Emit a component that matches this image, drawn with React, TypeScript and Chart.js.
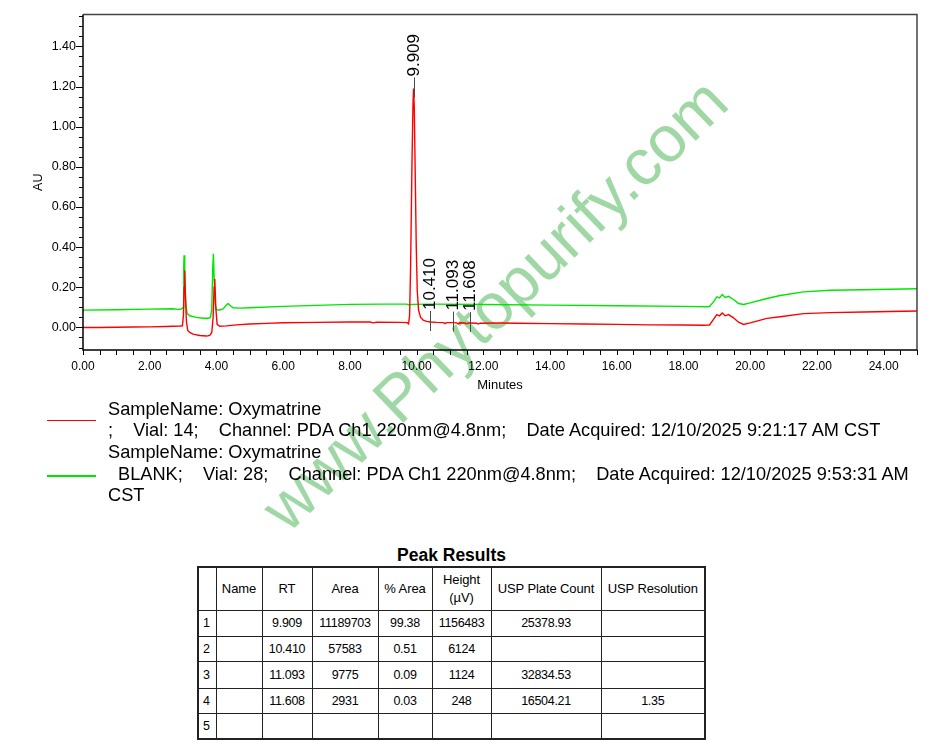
import React, { useEffect, useRef } from 'react';
import { Chart, registerables } from 'chart.js';

Chart.register(...registerables);

// ---------- chromatogram data (minutes, AU) ----------
const RED_TIME = [
  0, 0.5, 1.0, 1.5, 2.0, 2.5, 2.9, 2.98, 3.01, 3.03, 3.05, 3.07, 3.1, 3.14, 3.2, 3.3, 3.5, 3.7, 3.8, 3.86,
  3.9, 3.93, 3.95, 3.98, 4.02, 4.1, 4.3, 4.6, 5.0, 5.5, 6.0, 7.0, 8.0, 8.6, 8.7, 8.8, 9.5, 9.72, 9.76, 9.79,
  9.82, 9.86, 9.89, 9.909, 9.93, 9.96, 9.99, 10.02, 10.06, 10.12, 10.2, 10.3, 10.41, 10.6, 10.8, 10.85, 10.9,
  11.093, 11.2, 11.25, 11.3, 11.45, 11.5, 11.55, 11.608, 11.8, 11.85, 11.9, 12.5, 13.0, 14.0, 15.0, 16.0, 17.0,
  18.0, 18.6, 18.78, 18.9, 19.0, 19.08, 19.16, 19.25, 19.35, 19.5, 19.65, 19.8, 20.0, 20.5, 20.9, 21.6, 22.4,
  23.4, 25.0,
];
const RED_AU = [
  0.0, 0.0, 0.001, 0.002, 0.003, 0.005, 0.007, 0.008, 0.06, 0.2, 0.284, 0.16, 0.03, -0.015, -0.025, -0.033,
  -0.04, -0.043, -0.04, -0.025, 0.05, 0.2, 0.243, 0.1, 0.015, 0.006, 0.008, 0.013, 0.017, 0.02, 0.023, 0.025,
  0.027, 0.027, 0.023, 0.026, 0.025, 0.024, 0.018, 0.06, 0.3, 0.8, 1.1, 1.19, 1.1, 0.75, 0.4, 0.18, 0.085,
  0.05, 0.036, 0.03, 0.027, 0.025, 0.024, 0.019, 0.024, 0.024, 0.023, 0.018, 0.023, 0.022, 0.018, 0.022,
  0.022, 0.021, 0.017, 0.021, 0.022, 0.021, 0.019, 0.017, 0.015, 0.013, 0.012, 0.011, 0.012, 0.04, 0.064,
  0.058, 0.072, 0.058, 0.064, 0.048, 0.026, 0.015, 0.023, 0.045, 0.053, 0.069, 0.074, 0.077, 0.082,
];
const GREEN_TIME = [
  0, 1.0, 2.0, 2.7, 2.85, 2.95, 3.0, 3.02, 3.03, 3.05, 3.08, 3.12, 3.2, 3.4, 3.6, 3.75, 3.82, 3.86, 3.89,
  3.91, 3.93, 3.96, 4.0, 4.1, 4.2, 4.3, 4.35, 4.42, 4.5, 4.7, 5.0, 6.0, 7.0, 8.0, 9.0, 9.7, 9.78, 9.85,
  10.5, 12.0, 14.0, 16.0, 18.0, 18.7, 18.78, 18.9, 19.0, 19.08, 19.16, 19.25, 19.35, 19.5, 19.65, 19.8,
  20.0, 20.5, 20.9, 21.6, 22.4, 23.4, 25.0,
];
const GREEN_AU = [
  0.086, 0.088, 0.091, 0.093, 0.09, 0.092, 0.1, 0.3, 0.359, 0.25, 0.12, 0.07, 0.058, 0.05, 0.046, 0.046,
  0.05, 0.09, 0.3, 0.367, 0.25, 0.12, 0.088, 0.087, 0.092, 0.112, 0.119, 0.108, 0.098, 0.096, 0.098, 0.105,
  0.11, 0.115, 0.116, 0.116, 0.112, 0.115, 0.116, 0.114, 0.111, 0.108, 0.105, 0.103, 0.104, 0.127, 0.152,
  0.147, 0.164, 0.149, 0.155, 0.139, 0.119, 0.114, 0.122, 0.144, 0.159, 0.177, 0.185, 0.188, 0.193,
];

// ---------- axes ----------
const X_MIN = 0;
const X_MAX = 25;
const X_LABELS = [0, 2, 4, 6, 8, 10, 12, 14, 16, 18, 20, 22, 24];
const X_MINOR_STEP = 0.5;
const Y_MIN = -0.1124;
const Y_MAX = 1.5588;
const Y_LABELS = [0, 0.2, 0.4, 0.6, 0.8, 1.0, 1.2, 1.4];
const Y_MINOR_STEP = 0.05;

// ---------- peak annotations ----------
const PEAK_RT = [9.909, 10.41, 11.093, 11.608];
const PEAK_TEXT = ['9.909', '10.410', '11.093', '11.608'];

// ---------- legend ----------
const SERIES_COLORS = ['#ff0000', '#00e600'];
const LEGEND_LINES = [
  'SampleName: Oxymatrine',
  ';    Vial: 14;    Channel: PDA Ch1 220nm@4.8nm;    Date Acquired: 12/10/2025 9:21:17 AM CST',
  'SampleName: Oxymatrine',
  '  BLANK;    Vial: 28;    Channel: PDA Ch1 220nm@4.8nm;    Date Acquired: 12/10/2025 9:53:31 AM',
  'CST',
];

// ---------- peak results table ----------
const TABLE_HEADERS = ['', 'Name', 'RT', 'Area', '% Area', 'Height\n(\u00b5V)', 'USP Plate Count', 'USP Resolution'];
const PEAK_NO = ['1', '2', '3', '4', '5'];
const PEAK_NAME = ['', '', '', '', ''];
const PEAK_RT_TEXT = ['9.909', '10.410', '11.093', '11.608', ''];
const PEAK_AREA = ['11189703', '57583', '9775', '2931', ''];
const PEAK_PCT_AREA = ['99.38', '0.51', '0.09', '0.03', ''];
const PEAK_HEIGHT = ['1156483', '6124', '1124', '248', ''];
const PEAK_PLATE = ['25378.93', '', '32834.53', '16504.21', ''];
const PEAK_RES = ['', '', '', '1.35', ''];

const FONT = '"Liberation Sans", Arial, Helvetica, sans-serif';

function buildTicks(min: number, max: number, step: number) {
  const out: number[] = [];
  const start = Math.ceil(min / step - 1e-9);
  const end = Math.floor(max / step + 1e-9);
  for (let i = start; i <= end; i++) out.push(+(i * step).toFixed(4));
  return out;
}
const isIn = (arr: number[], v: number) => arr.some((a) => Math.abs(a - v) < 1e-6);

function interp(ts: number[], vs: number[], t: number) {
  for (let i = 0; i < ts.length - 1; i++) {
    if (t >= ts[i] && t <= ts[i + 1]) {
      const f = (t - ts[i]) / (ts[i + 1] - ts[i]);
      return vs[i] + f * (vs[i + 1] - vs[i]);
    }
  }
  return vs[vs.length - 1];
}

const framePlugin = {
  id: 'frameTicks',
  afterDraw(chart: any) {
    const { ctx, chartArea: a, scales } = chart;
    const x = scales.x;
    const y = scales.y;
    ctx.save();
    ctx.strokeStyle = '#000';
    ctx.lineWidth = 1;
    ctx.beginPath();
    for (const t of x.ticks) {
      const px = Math.round(x.getPixelForValue(t.value)) + 0.5;
      ctx.moveTo(px, a.bottom);
      ctx.lineTo(px, a.bottom + 5);
    }
    for (const t of y.ticks) {
      const py = Math.round(y.getPixelForValue(t.value)) + 0.5;
      const len = isIn(Y_LABELS, t.value) ? 7 : 4;
      ctx.moveTo(a.left - len, py);
      ctx.lineTo(a.left, py);
    }
    ctx.stroke();
    // top + right frame
    ctx.strokeStyle = '#444';
    ctx.lineWidth = 1.5;
    ctx.beginPath();
    ctx.moveTo(a.left, a.top);
    ctx.lineTo(a.right, a.top);
    ctx.lineTo(a.right, a.bottom);
    ctx.stroke();
    // axes
    ctx.strokeStyle = '#000';
    ctx.lineWidth = 1.5;
    ctx.beginPath();
    ctx.moveTo(a.left, a.top);
    ctx.lineTo(a.left, a.bottom);
    ctx.lineTo(a.right, a.bottom);
    ctx.stroke();
    ctx.restore();
  },
};

const peakPlugin = {
  id: 'peakLabels',
  afterDatasetsDraw(chart: any) {
    const { ctx, scales } = chart;
    const x = scales.x;
    const y = scales.y;
    ctx.save();
    ctx.font = '17px ' + FONT;
    ctx.fillStyle = '#000';
    ctx.strokeStyle = '#4a4a4a';
    ctx.lineWidth = 1;
    PEAK_RT.forEach((rt, i) => {
      const px = Math.round(x.getPixelForValue(rt)) + 0.5;
      const py = y.getPixelForValue(interp(RED_TIME, RED_AU, rt));
      ctx.beginPath();
      ctx.moveTo(px, py - 11);
      ctx.lineTo(px, py + 9);
      ctx.stroke();
      ctx.save();
      ctx.translate(px, py - 12);
      ctx.rotate(-Math.PI / 2);
      ctx.textAlign = 'left';
      ctx.textBaseline = 'middle';
      ctx.fillText(PEAK_TEXT[i], 0, 0);
      ctx.restore();
    });
    ctx.restore();
  },
};

function ChromChart() {
  const ref = useRef<HTMLCanvasElement | null>(null);
  useEffect(() => {
    if (!ref.current) return;
    const xTicks = buildTicks(X_MIN, X_MAX, X_MINOR_STEP);
    const yTicks = buildTicks(Y_MIN, Y_MAX, Y_MINOR_STEP);
    const chart = new Chart(ref.current, {
      type: 'line',
      data: {
        datasets: [
          {
            label: 'Oxymatrine',
            data: RED_TIME.map((t, i) => ({ x: t, y: RED_AU[i] })),
            borderColor: SERIES_COLORS[0],
            borderWidth: 1.4,
            pointRadius: 0,
            tension: 0,
            fill: false,
          },
          {
            label: 'BLANK',
            data: GREEN_TIME.map((t, i) => ({ x: t, y: GREEN_AU[i] })),
            borderColor: SERIES_COLORS[1],
            borderWidth: 1.4,
            pointRadius: 0,
            tension: 0,
            fill: false,
          },
        ],
      },
      options: {
        animation: false,
        responsive: false,
        devicePixelRatio: 1,
        events: [],
        layout: { padding: { left: 0, right: 35, top: 13, bottom: 0 } },
        plugins: { legend: { display: false }, tooltip: { enabled: false } },
        scales: {
          x: {
            type: 'linear',
            min: X_MIN,
            max: X_MAX,
            afterBuildTicks: (s: any) => {
              s.ticks = xTicks.map((v) => ({ value: v }));
            },
            afterFit: (s: any) => {
              s.height = 50;
            },
            grid: { display: false, drawTicks: false },
            border: { display: false },
            ticks: {
              autoSkip: false,
              maxRotation: 0,
              padding: 9,
              color: '#000',
              font: { family: FONT, size: 12 },
              callback: (v: any) => (isIn(X_LABELS, Number(v)) ? Number(v).toFixed(2) : ''),
            },
            title: {
              display: true,
              text: 'Minutes',
              color: '#000',
              font: { family: FONT, size: 13 },
              padding: { top: 0, bottom: 7 },
            },
          },
          y: {
            type: 'linear',
            min: Y_MIN,
            max: Y_MAX,
            afterBuildTicks: (s: any) => {
              s.ticks = yTicks.map((v) => ({ value: v }));
            },
            afterFit: (s: any) => {
              s.width = 83;
            },
            grid: { display: false, drawTicks: false },
            border: { display: false },
            ticks: {
              autoSkip: false,
              padding: 7,
              color: '#000',
              font: { family: FONT, size: 12.5 },
              callback: (v: any) => (isIn(Y_LABELS, Number(v)) ? Number(v).toFixed(2) : ''),
            },
            title: {
              display: true,
              text: 'AU',
              color: '#000',
              font: { family: FONT, size: 12.5 },
              padding: { top: 31, bottom: 0 },
            },
          },
        },
      },
      plugins: [framePlugin, peakPlugin],
    });
    return () => chart.destroy();
  }, []);
  return (
    <canvas
      ref={ref}
      width={952}
      height={400}
      style={{ position: 'absolute', left: 0, top: 0, width: 952, height: 400 }}
    />
  );
}

const COL_WIDTHS = [18, 46, 50, 66, 54, 59, 110, 104];
const ROW_HEIGHTS = [26, 25, 27, 25, 26];

export default function App() {
  useEffect(() => {
    document.body.style.margin = '0';
  }, []);

  const rows = PEAK_NO.map((n, i) => [
    n,
    PEAK_NAME[i],
    PEAK_RT_TEXT[i],
    PEAK_AREA[i],
    PEAK_PCT_AREA[i],
    PEAK_HEIGHT[i],
    PEAK_PLATE[i],
    PEAK_RES[i],
  ]);

  const cellBase: React.CSSProperties = {
    border: '1px solid #222',
    padding: 0,
    fontSize: 12.5,
    textAlign: 'center',
    verticalAlign: 'middle',
    whiteSpace: 'pre',
    overflow: 'hidden',
    letterSpacing: '-0.3px',
  };

  return (
    <div
      style={{
        position: 'relative',
        width: 952,
        height: 754,
        overflow: 'hidden',
        background: '#fff',
        fontFamily: FONT,
        color: '#000',
      }}
    >
      {/* watermark (behind content) */}
      <div
        style={{
          position: 'absolute',
          left: 494,
          top: 304,
          transform: 'translate(-50%, -50%) rotate(-44deg)',
          fontSize: 65,
          lineHeight: 1,
          whiteSpace: 'nowrap',
          color: '#a0d8a5',
          fontFamily: FONT,
          zIndex: 0,
        }}
      >
        www.Phytopurify.com
      </div>

      <div style={{ position: 'absolute', left: 0, top: 0, zIndex: 1 }}>
        <ChromChart />
      </div>

      {/* legend */}
      <div style={{ position: 'absolute', left: 0, top: 0, zIndex: 1 }}>
        <div style={{ position: 'absolute', left: 47, top: 419.5, width: 49, height: 1.5, background: SERIES_COLORS[0] }} />
        <div style={{ position: 'absolute', left: 47, top: 475.3, width: 49, height: 1.5, background: SERIES_COLORS[1] }} />
        <div
          style={{
            position: 'absolute',
            left: 108,
            top: 398.6,
            fontSize: 18.2,
            lineHeight: '21.7px',
            whiteSpace: 'pre',
          }}
        >
          {LEGEND_LINES.map((l, i) => (
            <div key={i}>{l}</div>
          ))}
        </div>
      </div>

      {/* peak results */}
      <div
        style={{
          position: 'absolute',
          left: 197,
          top: 545,
          width: 509,
          textAlign: 'center',
          fontWeight: 'bold',
          fontSize: 17.5,
          lineHeight: '21px',
          zIndex: 1,
        }}
      >
        Peak Results
      </div>
      <table
        style={{
          position: 'absolute',
          left: 197,
          top: 566,
          borderCollapse: 'collapse',
          tableLayout: 'fixed',
          width: 508,
          border: '2px solid #222',
          zIndex: 1,
        }}
      >
        <colgroup>
          {COL_WIDTHS.map((w, i) => (
            <col key={i} style={{ width: w }} />
          ))}
        </colgroup>
        <tbody>
          <tr style={{ height: 43 }}>
            {TABLE_HEADERS.map((h, i) => (
              <td key={i} style={{ ...cellBase, fontSize: 13, letterSpacing: '-0.1px', lineHeight: '18px' }}>
                {h}
              </td>
            ))}
          </tr>
          {rows.map((r, ri) => (
            <tr key={ri} style={{ height: ROW_HEIGHTS[ri] }}>
              {r.map((c, ci) => (
                <td
                  key={ci}
                  style={{
                    ...cellBase,
                    textAlign: ci === 0 ? 'left' : 'center',
                    paddingLeft: ci === 0 ? 4 : 0,
                  }}
                >
                  {c}
                </td>
              ))}
            </tr>
          ))}
        </tbody>
      </table>
    </div>
  );
}
